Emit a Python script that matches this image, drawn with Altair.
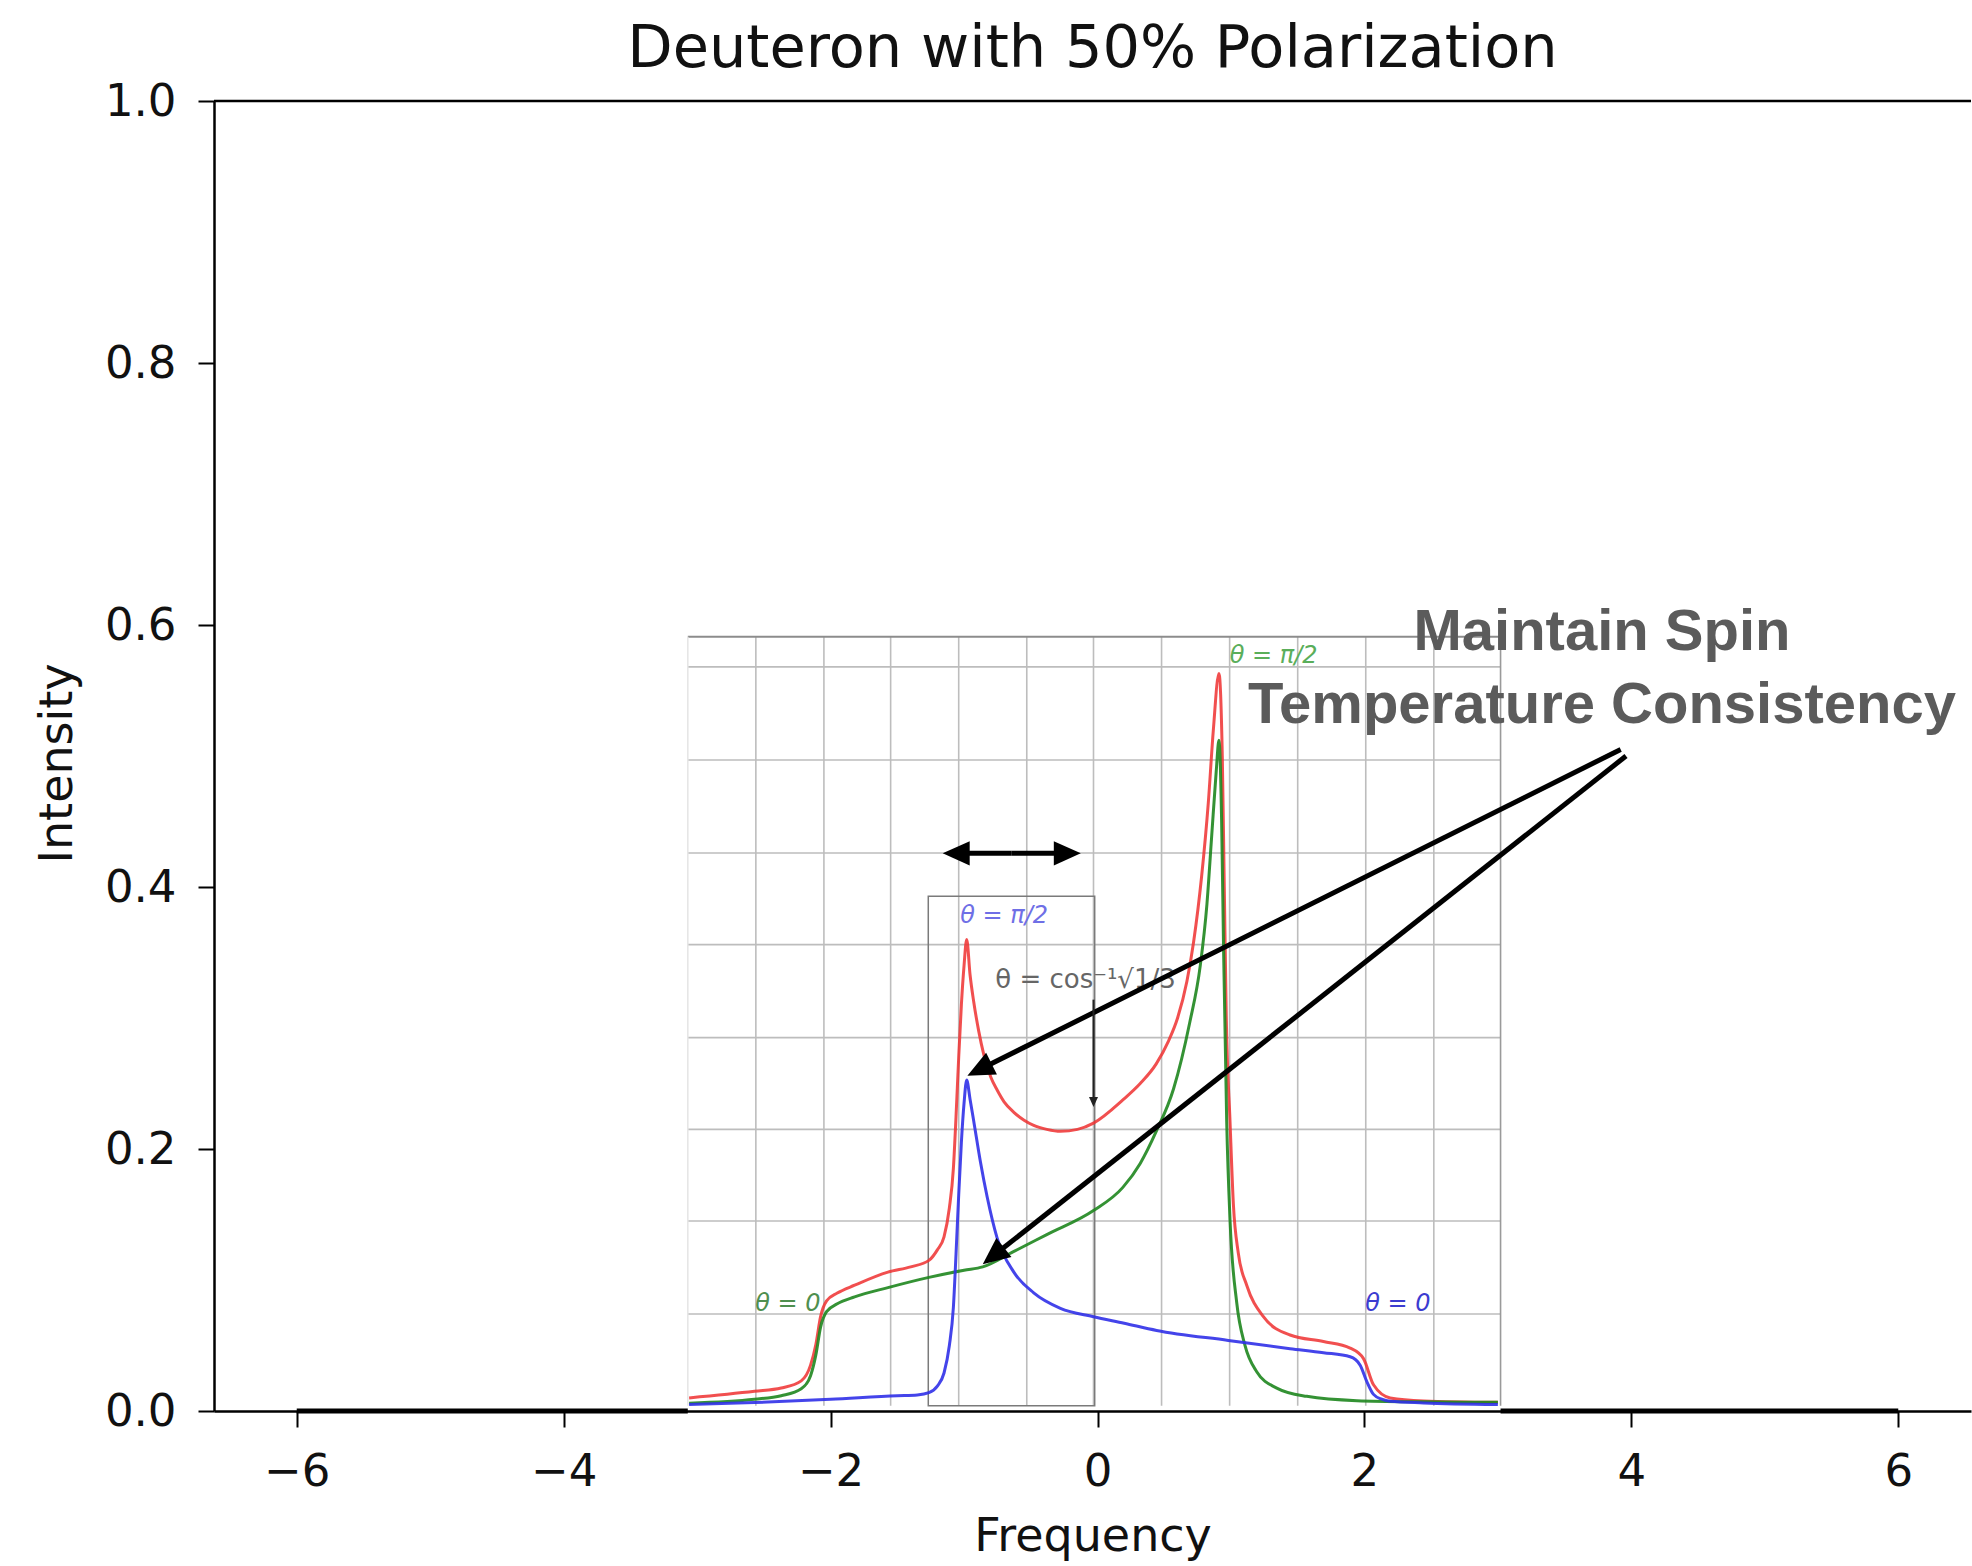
import math
import pandas as pd
import altair as alt

# ---------------- axes ----------------
X_DOMAIN = [-6.62, 6.545]
Y_DOMAIN = [0.0, 1.0]
x_ticks = [-6, -4, -2, 0, 2, 4, 6]
y_ticks = [0.0, 0.2, 0.4, 0.6, 0.8, 1.0]
W, H = 1757, 1310

# outer spectrum trace (flat at zero, interrupted by the pasted inset)
base_x = [-6.0, -3.07, 3.02, 6.0]
base_y = [0.0, 0.0, 0.0, 0.0]
base_seg = ["a", "a", "b", "b"]

# ---------------- inset frame & grid ----------------
inset_left, inset_right = -3.07, 3.02
inset_bottom, inset_top = 0.004, 0.591
inset_grid_x = [-2.56, -2.05, -1.55, -1.04, -0.53, -0.03, 0.48, 0.99, 1.50, 2.01, 2.52]
inset_grid_y = [0.074, 0.145, 0.215, 0.285, 0.356, 0.426, 0.497, 0.568]
box_x = [-1.268, -0.021]
box_y = [0.004, 0.393]

# ---------------- curves ----------------
red_x = [-3.06, -2.57, -2.37, -2.22, -2.15, -2.11, -2.075, -2.03, -1.95, -1.82, -1.57, -1.40,
         -1.263, -1.20, -1.15, -1.11, -1.08, -1.06, -1.04, -1.02, -1.0, -0.98, -0.955, -0.927,
         -0.89, -0.852, -0.80, -0.752, -0.70, -0.627, -0.55, -0.478, -0.38, -0.278, -0.15, -0.03,
         0.19, 0.32, 0.44, 0.53, 0.60, 0.67, 0.72, 0.78, 0.83, 0.868, 0.91, 0.935, 0.95, 0.965, 0.993, 1.018,
         1.055, 1.118, 1.243, 1.443, 1.693, 1.893, 1.993, 2.068, 2.193, 2.443, 3.0]
red_y = [0.010, 0.015, 0.0175, 0.023, 0.035, 0.051, 0.072, 0.084, 0.090, 0.096, 0.106, 0.110,
         0.115, 0.123, 0.133, 0.155, 0.185, 0.225, 0.27, 0.31, 0.34, 0.36, 0.333, 0.312,
         0.29, 0.272, 0.255, 0.245, 0.236, 0.228, 0.222, 0.218, 0.215, 0.2135, 0.215, 0.2198,
         0.2375, 0.250, 0.265, 0.282, 0.300, 0.328, 0.358, 0.408, 0.464, 0.52, 0.563, 0.50, 0.40, 0.30, 0.221, 0.158,
         0.1205, 0.096, 0.072, 0.058, 0.053, 0.048, 0.040, 0.020, 0.010, 0.0077, 0.0066]

green_x = [-3.06, -2.57, -2.37, -2.22, -2.15, -2.11, -2.075, -2.03, -1.95, -1.82, -1.57, -1.263,
           -1.0, -0.86, -0.63, -0.38, -0.03, 0.19, 0.32, 0.44, 0.57, 0.69, 0.77, 0.82, 0.855, 0.89, 0.91,
           0.93, 0.945, 0.968, 0.993, 1.043, 1.105, 1.193, 1.343, 1.568, 1.943, 2.443, 3.0]
green_y = [0.006, 0.009, 0.0117, 0.017, 0.027, 0.043, 0.064, 0.0758, 0.0818, 0.0871, 0.0942, 0.102,
           0.1075, 0.110, 0.1216, 0.1347, 0.153, 0.1707, 0.189, 0.2134, 0.246, 0.296, 0.340, 0.387, 0.438, 0.489, 0.512,
           0.45, 0.35, 0.221, 0.1456, 0.0828, 0.0501, 0.030, 0.0175, 0.0112, 0.0079, 0.007, 0.0066]

blue_x = [-3.06, -2.57, -2.0, -1.5, -1.35, -1.263, -1.20, -1.15, -1.11, -1.08, -1.06, -1.04, -1.02, -1.0,
          -0.98, -0.955, -0.927, -0.877, -0.827, -0.752, -0.627, -0.478, -0.278, -0.03, 0.20, 0.443,
          0.98, 1.443, 1.693, 1.893, 1.968, 2.018, 2.068, 2.13, 2.193, 2.443, 3.0]
blue_y = [0.005, 0.0064, 0.009, 0.0117, 0.0123, 0.014, 0.019, 0.029, 0.050, 0.079, 0.12, 0.165, 0.205, 0.235,
          0.2526, 0.238, 0.221, 0.19, 0.1635, 0.132, 0.106, 0.0902, 0.0784, 0.072, 0.067, 0.0615,
          0.0539, 0.0476, 0.0445, 0.0414, 0.035, 0.0225, 0.0127, 0.009, 0.0074, 0.0062, 0.005]

# ---------------- inset labels ----------------
lbl_text = ["θ = π/2", "θ = π/2", "θ = 0", "θ = 0"]
lbl_x = [-0.70, 1.32, -2.32, 2.25]
lbl_y = [0.378, 0.576, 0.082, 0.082]
lbl_color = ["#6f6fe6", "#5aae5a", "#4f8f4f", "#3c3cd0"]
angle_text = "θ = cos⁻¹√1/3"
angle_x, angle_y = -0.09, 0.329

# ---------------- annotation ----------------
note_text = ["Maintain Spin", "Temperature Consistency"]
note_x = [3.78, 3.78]
note_y = [0.581, 0.525]

# arrows: tail -> tip
arr_tail_x = [3.92, 3.96, -0.6425, -0.6425]
arr_tail_y = [0.505, 0.500, 0.4257, 0.4257]
arr_tip_x = [-0.975, -0.86, -1.16, -0.125]
arr_tip_y = [0.256, 0.112, 0.4257, 0.4257]
small_tail = (-0.03, 0.314)
small_tip = (-0.03, 0.232)

# ---------------- helpers ----------------
PX_X = W / (X_DOMAIN[1] - X_DOMAIN[0])
PX_Y = H / (Y_DOMAIN[1] - Y_DOMAIN[0])
HEAD = "M0,0L-0.9,2L0.9,2Z"


def arrow_frames(tx, ty, px, py, size):
    shafts, heads = [], []
    for a, b, c, d in zip(tx, ty, px, py):
        dx = (c - a) * PX_X
        dys = -(d - b) * PX_Y
        L = math.hypot(dx, dys)
        ux, uy = dx / L, dys / L
        back = 0.55 * math.sqrt(size)
        ex = c - ux * back / PX_X
        ey = d + uy * back / PX_Y
        ang = math.degrees(math.atan2(dx, -dys)) % 360
        shafts.append({"x": a, "y": b, "x2": ex, "y2": ey})
        heads.append({"x": c, "y": d, "angle": ang})
    return pd.DataFrame(shafts), pd.DataFrame(heads)


xs = alt.Scale(domain=X_DOMAIN, nice=False, zero=False)
ys = alt.Scale(domain=Y_DOMAIN, nice=False, zero=False)
xaxis = alt.Axis(title="Frequency", values=x_ticks, format="d", grid=False,
                 labelBaseline="alphabetic", labelPadding=58,
                 titleBaseline="alphabetic", titleY=139)
yaxis = alt.Axis(title="Intensity", values=y_ticks, format=".1f", grid=False,
                 labelPadding=22, titleBaseline="middle", titleX=-157, titleY=662)


def X(f="x"):
    return alt.X(f"{f}:Q", scale=xs, axis=xaxis)


def Y(f="y"):
    return alt.Y(f"{f}:Q", scale=ys, axis=yaxis)


layers = []

# top spine
layers.append(alt.Chart(pd.DataFrame({"y": [1.0]})).mark_rule(color="black", strokeWidth=2.5)
              .encode(y=Y()))

# inset grid
vg = pd.DataFrame({"x": inset_grid_x, "y": [inset_bottom] * len(inset_grid_x),
                   "y2": [inset_top] * len(inset_grid_x)})
layers.append(alt.Chart(vg).mark_rule(color="#bdbdbd", strokeWidth=1.6)
              .encode(x=X(), y=Y(), y2="y2:Q"))
hg = pd.DataFrame({"y": inset_grid_y, "x": [inset_left] * len(inset_grid_y),
                   "x2": [inset_right] * len(inset_grid_y)})
layers.append(alt.Chart(hg).mark_rule(color="#bdbdbd", strokeWidth=1.6)
              .encode(y=Y(), x=X(), x2="x2:Q"))
# inset borders
tb = pd.DataFrame({"y": [inset_top], "x": [inset_left], "x2": [inset_right]})
layers.append(alt.Chart(tb).mark_rule(color="#8c8c8c", strokeWidth=2)
              .encode(y=Y(), x=X(), x2="x2:Q"))
sb = pd.DataFrame({"x": [inset_left, inset_right], "y": [inset_bottom] * 2, "y2": [inset_top] * 2,
                   "c": ["#e6e6e6", "#9a9a9a"]})
layers.append(alt.Chart(sb).mark_rule(strokeWidth=1.6)
              .encode(x=X(), y=Y(), y2="y2:Q", color=alt.Color("c:N", scale=None)))
# box
bx = pd.DataFrame({"x": [box_x[0]], "x2": [box_x[1]], "y": [box_y[0]], "y2": [box_y[1]]})
layers.append(alt.Chart(bx).mark_rect(fillOpacity=0, stroke="#7a7a7a", strokeWidth=1.5)
              .encode(x=X(), x2="x2:Q", y=Y(), y2="y2:Q"))

# curves
for cx, cy, col, op in [(red_x, red_y, "#ee3030", 0.85), (green_x, green_y, "#1e861e", 0.9),
                        (blue_x, blue_y, "#3030e8", 0.9)]:
    df = pd.DataFrame({"x": cx, "y": cy})
    layers.append(alt.Chart(df).mark_line(color=col, strokeWidth=3, opacity=op, interpolate="monotone")
                  .encode(x=X(), y=Y()))

# outer trace at zero
bdf = pd.DataFrame({"x": base_x, "y": base_y, "seg": base_seg})
layers.append(alt.Chart(bdf).mark_line(color="black", strokeWidth=5)
              .encode(x=X(), y=Y(), detail="seg:N"))

# inset labels
ldf = pd.DataFrame({"x": lbl_x, "y": lbl_y, "t": lbl_text, "c": lbl_color})
layers.append(alt.Chart(ldf).mark_text(font="DejaVu Sans", fontSize=24, fontStyle="italic",
                                       align="center", baseline="middle")
              .encode(x=X(), y=Y(), text="t:N", color=alt.Color("c:N", scale=None)))
adf = pd.DataFrame({"x": [angle_x], "y": [angle_y], "t": [angle_text]})
layers.append(alt.Chart(adf).mark_text(font="DejaVu Sans", fontSize=26, color="#666666",
                                       align="center", baseline="middle")
              .encode(x=X(), y=Y(), text="t:N"))

# arrows
sh, hd = arrow_frames(arr_tail_x, arr_tail_y, arr_tip_x, arr_tip_y, 729)
layers.append(alt.Chart(sh).mark_rule(color="black", strokeWidth=5)
              .encode(x=X(), y=Y(), x2="x2:Q", y2="y2:Q"))
layers.append(alt.Chart(hd).mark_point(shape=HEAD, size=729, filled=True, color="black",
                                       opacity=1, strokeWidth=0)
              .encode(x=X(), y=Y(), angle=alt.Angle("angle:Q", scale=None)))
sh2, hd2 = arrow_frames([small_tail[0]], [small_tail[1]], [small_tip[0]], [small_tip[1]], 100)
layers.append(alt.Chart(sh2).mark_rule(color="#222222", strokeWidth=2)
              .encode(x=X(), y=Y(), x2="x2:Q", y2="y2:Q"))
layers.append(alt.Chart(hd2).mark_point(shape=HEAD, size=100, filled=True, color="#222222",
                                        opacity=1, strokeWidth=0)
              .encode(x=X(), y=Y(), angle=alt.Angle("angle:Q", scale=None)))

# annotation text
ndf = pd.DataFrame({"x": note_x, "y": note_y, "t": note_text})
layers.append(alt.Chart(ndf).mark_text(font="Liberation Sans", fontSize=58, fontWeight="bold",
                                       color="#5b5b5b", align="center", baseline="alphabetic")
              .encode(x=X(), y=Y(), text="t:N"))

chart = alt.layer(*layers).properties(
    width=W, height=H,
    background="white",
    autosize=alt.AutoSizeParams(type="none"),
    padding={"left": 214, "top": 101, "right": 1, "bottom": 155},
    title=alt.TitleParams(text="Deuteron with 50% Polarization", font="DejaVu Sans", fontSize=59,
                          fontWeight="normal", color="#111111", anchor="middle", frame="group",
                          baseline="alphabetic", offset=-47),
).configure_view(stroke=None).configure_axis(
    domainColor="black", domainWidth=2.5, tickColor="black", tickWidth=2, tickSize=16,
    labelFont="DejaVu Sans", labelFontSize=45, labelColor="#111111",
    titleFont="DejaVu Sans", titleFontSize=46, titleFontWeight="normal", titleColor="#111111",
)

chart.save("out.html", embed_options={"renderer": "svg", "actions": False})
